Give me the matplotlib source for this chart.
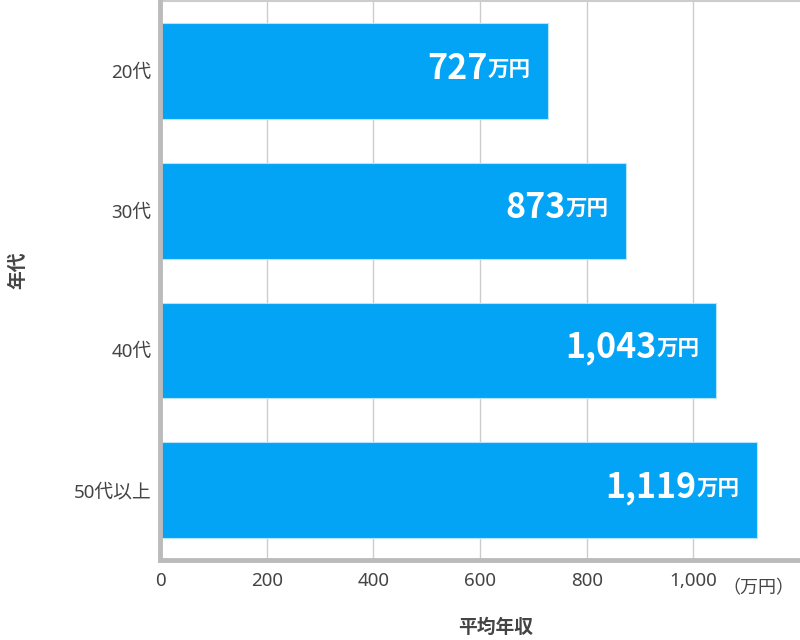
import matplotlib
matplotlib.use("Agg")
import matplotlib.pyplot as plt

plt.rcParams['font.family'] = ['Noto Sans', 'Noto Sans CJK JP', 'DejaVu Sans']
cjk = ['Noto Sans CJK JP', 'DejaVu Sans']

categories = ["20代", "30代", "40代", "50代以上"]
values = [727, 873, 1043, 1119]
xticks = [0, 200, 400, 600, 800, 1000]
xtick_labels = ["0", "200", "400", "600", "800", "1,000"]

bar_color = "#03A3F5"
text_color = "#444444"

fig = plt.figure(figsize=(8, 6.4), dpi=100)
ax = fig.add_axes([0.2, 0.125, 0.8, 0.873])

ypos = list(range(len(categories)))
ax.barh(ypos, values, height=0.686, color=bar_color, edgecolor="#b8e4fb", linewidth=0.8, zorder=3)
ax.set_ylim(len(categories) - 0.5, -0.5)
ax.set_xlim(0, 1200)

ax.set_yticks(ypos)
ax.set_yticklabels(categories, fontsize=13.5, color=text_color)
ax.set_xticks(xticks)
ax.set_xticklabels(xtick_labels, fontsize=13.5, color=text_color)
ax.tick_params(axis='both', length=0)
ax.tick_params(axis='y', pad=6)
ax.tick_params(axis='x', pad=9)

ax.grid(axis='x', color="#cccccc", linewidth=1.0, zorder=0)
ax.spines['right'].set_visible(False)
ax.spines['top'].set_color("#cccccc")
ax.spines['top'].set_linewidth(1.5)
ax.spines['left'].set_color("#bbbbbb")
ax.spines['left'].set_linewidth(3.5)
ax.spines['bottom'].set_color("#bbbbbb")
ax.spines['bottom'].set_linewidth(3.5)
ax.spines['left'].set_zorder(4)

fig.canvas.draw()
for y, v in zip(ypos, values):
    num = f"{v:,}"
    t2 = ax.annotate("万円", xy=(v, y), xytext=(-17, 2), textcoords="offset pixels",
                     ha="right", va="center", color="white", fontsize=15.5, fontweight="bold",
                     family=cjk, zorder=5)
    fig.canvas.draw()
    w = t2.get_window_extent().width
    ax.annotate(num, xy=(v, y), xytext=(-17 - w, 3), textcoords="offset pixels",
                ha="right", va="center", color="white", fontsize=24.5, fontweight="bold",
                family=cjk, zorder=5)

ax.text((758 - 160) / 640, -0.035, "（万円）", transform=ax.transAxes, ha="center", va="top",
        fontsize=13, color=text_color, family=cjk)

fig.text(0.62, 0.02, "平均年収", ha="center", va="center", fontsize=13.5, fontweight="bold",
         color=text_color, family=cjk)
fig.text(0.022, 0.578, "年代", ha="center", va="center", rotation=90, fontsize=13.5,
         fontweight="bold", color=text_color, family=cjk)

fig.savefig("out.png", dpi=100)
